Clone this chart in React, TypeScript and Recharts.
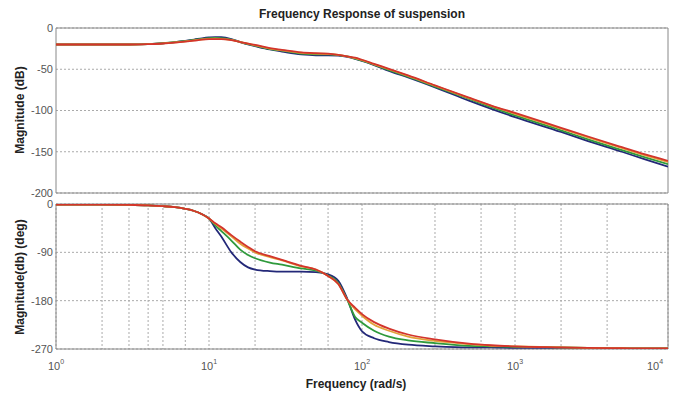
import { LineChart, Line, XAxis, YAxis, CartesianGrid, ReferenceArea } from 'recharts';

// frequency points (rad/s)
const freq = [1, 2, 3, 4, 5, 6, 7, 8, 9, 10, 11, 12, 14, 16, 18, 20, 25, 30, 40, 50, 60, 70, 80, 90, 100, 120, 150, 200, 300, 500, 700, 1000, 2000, 3000, 5000, 7000, 10000];

// magnitude (dB)
const magBlue = [-20, -20, -20, -19.5, -18.5, -17, -15.5, -14, -12.5, -11.5, -11, -11.2, -13.5, -17, -20, -22, -26, -28.5, -32, -33, -33, -33.5, -35, -37.5, -40, -45, -52, -60, -72, -88, -98, -108, -126, -137, -150, -159, -168];
const magGreen = [-20, -20, -20, -19.5, -18.5, -17.2, -15.8, -14.5, -13.2, -12.3, -12, -12.2, -14, -17, -19.5, -21.5, -25.5, -27.5, -31, -32, -32, -33, -34.5, -37, -39.5, -44.5, -51, -59, -71, -86, -96, -106, -124, -135, -148, -156.5, -165];
const magOrange = [-20, -20, -20, -19.5, -18.7, -17.5, -16.2, -15, -13.8, -13.2, -13, -13.2, -14.5, -17, -19, -21, -25, -27, -30, -31, -31.5, -32.5, -34.5, -36.5, -39, -44, -50, -58, -70, -85, -94.5, -104, -122, -132.5, -145.5, -154, -162.5];
const magRed = [-20, -20, -20, -19.5, -18.8, -17.7, -16.5, -15.3, -14.2, -13.6, -13.4, -13.5, -14.8, -17, -19, -20.5, -24.5, -26.5, -29.5, -30.5, -31, -32.5, -34.5, -36, -38.5, -43.5, -49.5, -57.5, -69.5, -84.5, -94, -103, -121, -131.5, -144.5, -153, -161];

// phase (deg)
const phBlue = [-1, -1, -1.5, -2.5, -4, -6, -9, -13, -19, -27, -45, -60, -90, -108, -118, -122, -125, -126, -126, -127, -131, -143, -176, -215, -237, -250, -257, -262, -265, -267, -267, -268, -268, -268.5, -269, -269, -269];
const phGreen = [-1, -1, -1.5, -2.5, -4, -6, -9, -13, -19, -27, -40, -50, -68, -85, -95, -101, -109, -113, -120, -124, -133, -147, -178, -210, -221, -236, -247, -254, -259, -264, -265, -266, -267, -268, -268.5, -269, -269];
const phOrange = [-1, -1, -1.5, -2.5, -4, -6, -9, -13, -19, -27, -37, -45, -60, -74, -83, -90, -99, -105, -116, -122, -134, -149, -178, -196, -208, -225, -236, -247, -255, -261, -264, -265, -267, -268, -268.5, -269, -269];
const phRed = [-1, -1, -1.5, -2.5, -4, -6, -9, -13, -19, -27, -36, -43, -58, -70, -80, -88, -97, -104, -115, -122, -134, -149, -178, -193, -205, -220, -232, -243, -252, -260, -263, -265, -267, -268, -268.5, -269, -269];

const xTicks = [1, 2, 3, 4, 5, 6, 7, 8, 9, 10, 20, 30, 40, 50, 60, 70, 80, 90, 100, 200, 300, 400, 500, 600, 700, 800, 900, 1000, 2000, 3000, 4000, 5000, 6000, 7000, 8000, 9000, 10000];
const magTicks = [-200, -150, -100, -50, 0];
const phTicks = [-270, -180, -90, 0];

const magData = freq.map((w, i) => ({ w, blue: magBlue[i], green: magGreen[i], orange: magOrange[i], red: magRed[i] }));
const phData = freq.map((w, i) => ({ w, blue: phBlue[i], green: phGreen[i], orange: phOrange[i], red: phRed[i] }));

const colors = { blue: '#232878', green: '#2f9a3c', orange: '#e2a23a', red: '#d3342c' };
const series = ['blue', 'green', 'orange', 'red'] as const;
const font = '"Liberation Sans", Arial, sans-serif';

function DecadeTick({ x, y, payload }: any) {
  const v = payload.value;
  const e = Math.round(Math.log10(v));
  if (Math.abs(Math.pow(10, e) - v) > 1e-6) return <g />;
  return (
    <text x={x} y={y + 13} textAnchor="middle" fontSize={11} fill="#555" fontFamily={font}>
      <tspan>10</tspan>
      <tspan dy={-6} fontSize={7}>{e}</tspan>
    </text>
  );
}

function Plot({ data, ticks, domain, top, height, margin, showX }: any) {
  return (
    <div style={{ position: 'absolute', left: 0, top }}>
      <LineChart width={675} height={height} data={data} margin={margin}>
        <CartesianGrid stroke="#aaa" strokeDasharray="2 2" horizontalValues={ticks} verticalValues={xTicks} />
        <XAxis
          dataKey="w"
          type="number"
          scale="log"
          domain={[1, 10000]}
          ticks={xTicks}
          allowDataOverflow
          height={showX ? 30 : 0}
          tick={showX ? <DecadeTick /> : false}
          tickLine={false}
          axisLine={false}
        />
        <YAxis
          type="number"
          domain={domain}
          ticks={ticks}
          width={40}
          allowDataOverflow
          tickLine={false}
          axisLine={false}
          interval={0}
          tickSize={0}
          tickMargin={3}
          tick={{ fontSize: 11, fill: '#555', fontFamily: font }}
        />
        <ReferenceArea x1={1} x2={10000} y1={domain[0]} y2={domain[1]} fill="none" stroke="#888" strokeWidth={1} />
        {series.map((k) => (
          <Line key={k} dataKey={k} type="monotone" stroke={colors[k]} strokeWidth={1.8} dot={false} isAnimationActive={false} />
        ))}
      </LineChart>
    </div>
  );
}

export default function App() {
  return (
    <div style={{ position: 'absolute', left: 0, top: 0, width: 675, height: 394, background: '#fff', fontFamily: font, overflow: 'hidden' }}>
      <div style={{ position: 'absolute', left: 56, width: 612, top: 7, textAlign: 'center', fontSize: 12, fontWeight: 'bold', color: '#222' }}>
        Frequency Response of suspension
      </div>
      <Plot data={magData} ticks={magTicks} domain={[-200, 0]} top={0} height={200} margin={{ top: 28, right: 7, bottom: 7, left: 16 }} showX={false} />
      <Plot data={phData} ticks={phTicks} domain={[-270, 0]} top={190} height={204} margin={{ top: 14, right: 7, bottom: 15, left: 16 }} showX />
      <div style={{ position: 'absolute', left: 20, top: 110, transform: 'translate(-50%, -50%) rotate(-90deg)', whiteSpace: 'nowrap', fontSize: 12, fontWeight: 'bold', color: '#222' }}>
        Magnitude (dB)
      </div>
      <div style={{ position: 'absolute', left: 20, top: 277, transform: 'translate(-50%, -50%) rotate(-90deg)', whiteSpace: 'nowrap', fontSize: 12, fontWeight: 'bold', color: '#222' }}>
        Magnitude(db) (deg)
      </div>
      <div style={{ position: 'absolute', left: 356, top: 377, transform: 'translateX(-50%)', whiteSpace: 'nowrap', fontSize: 12, fontWeight: 'bold', color: '#222' }}>
        Frequency  (rad/s)
      </div>
    </div>
  );
}
